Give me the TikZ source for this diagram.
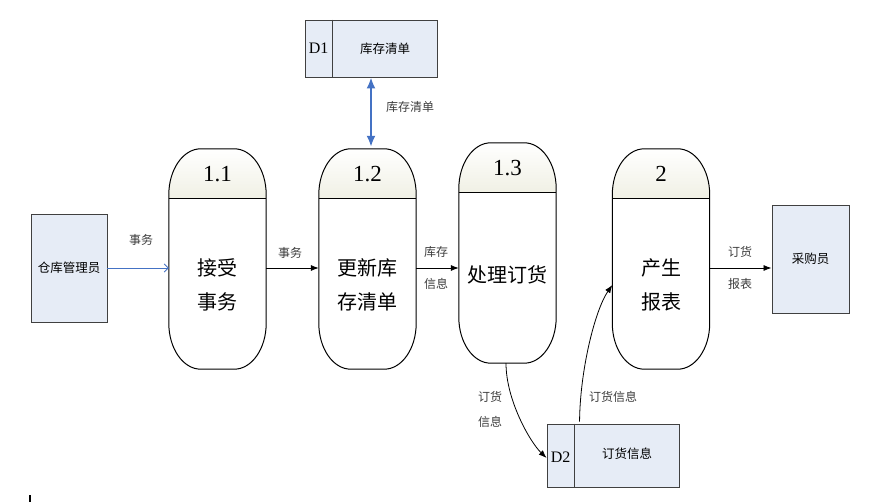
\documentclass[tikz,border=0pt]{standalone}
\usepackage{fontspec}
\setmainfont{Liberation Serif}
\newfontfamily\cjk{Noto Sans CJK SC}
\usetikzlibrary{arrows.meta,calc}
\definecolor{storefill}{RGB}{230,236,246}
\definecolor{edgegray}{RGB}{64,64,64}
\definecolor{headfill}{RGB}{240,240,228}
\definecolor{flowblue}{RGB}{68,114,196}
\definecolor{labelgray}{RGB}{60,60,60}
\tikzset{
 procbox/.style={draw=none, minimum width=97pt, minimum height=220pt, inner sep=0pt},
 procline/.style={draw=black, line width=1pt},
 numtext/.style={font=\fontsize{23}{24}\selectfont, inner sep=0pt},
 proctext/.style={font=\cjk\fontsize{20}{34}\selectfont, align=center, inner sep=0pt},
 storebox/.style={draw=edgegray, fill=storefill, line width=0.9pt, inner sep=0pt},
 storetext/.style={font=\cjk\fontsize{12.5}{15}\selectfont, inner sep=0pt},
 storeid/.style={font=\fontsize{16}{18}\selectfont, inner sep=0pt},
 entity/.style={draw=edgegray, fill=storefill, line width=0.9pt, inner sep=0pt, font=\cjk\fontsize{12.5}{15}\selectfont},
 elabel/.style={font=\cjk\fontsize{12}{14}\selectfont, text=labelgray, inner sep=0pt},
 flow/.style={draw=black, line width=0.8pt, -{Latex[length=8pt,width=6pt]}},
}
\newcommand\procshape[1]{%
 \shade[top color=white, bottom color=headfill] ([yshift=-50pt]#1.north west) -- ([yshift=-46pt]#1.north west) arc[start angle=180,end angle=90,x radius=32pt,y radius=46pt] -- ([xshift=-32pt]#1.north east) arc[start angle=90,end angle=0,x radius=32pt,y radius=46pt] -- ([yshift=-50pt]#1.north east) -- cycle;
 \draw[procline] ([yshift=-46pt]#1.north west) arc[start angle=180,end angle=90,x radius=32pt,y radius=46pt] -- ([xshift=-32pt]#1.north east) arc[start angle=90,end angle=0,x radius=32pt,y radius=46pt] -- ([yshift=46pt]#1.south east) arc[start angle=0,end angle=-90,x radius=32pt,y radius=46pt] -- ([xshift=32pt]#1.south west) arc[start angle=-90,end angle=-180,x radius=32pt,y radius=46pt] -- cycle;
 \draw[procline] ([yshift=-50pt]#1.north west) -- ([yshift=-50pt]#1.north east);
}
\begin{document}
\begin{tikzpicture}[x=1pt,y=-1pt]
\path[use as bounding box] (0,0) rectangle (869,502);
% processes
\node[procbox] (p11) at (217.5,259) {};
\node[procbox] (p12) at (367.5,259) {};
\node[procbox] (p13) at (507.5,253) {};
\node[procbox] (p2) at (661,259) {};
\procshape{p11}
\procshape{p12}
\procshape{p13}
\procshape{p2}
\node[numtext] (n11) at ($(p11.north)+(0,25)$) {1.1};
\node[numtext] (n12) at ($(p12.north)+(0,25)$) {1.2};
\node[numtext] (n13) at ($(p13.north)+(0,25)$) {1.3};
\node[numtext] (n2) at ($(p2.north)+(0,25)$) {2};
\node[proctext] (t11) at ($(p11.center)+(0,26)$) {接受\\事务};
\node[proctext] (t12) at ($(p12.center)+(0,26)$) {更新库\\存清单};
\node[proctext] (t13) at ($(p13.center)+(0,22)$) {处理订货};
\node[proctext] (t2) at ($(p2.center)+(0,26)$) {产生\\报表};
% entities
\node[entity, minimum width=76pt, minimum height=108pt] (wm) at (69,268) {仓库管理员};
\node[entity, minimum width=77pt, minimum height=108pt] (cg) at (810.5,259) {采购员};
% stores
\node[storebox, minimum width=132pt, minimum height=57pt] (d1) at (371,48.5) {};
\draw[edgegray, line width=0.9pt] ([xshift=28pt]d1.north west) -- ([xshift=28pt]d1.south west);
\node[storeid] (d1id) at ($(d1.west)+(14,0)$) {D1};
\node[storetext] (d1t) at ($(d1.center)+(14,0)$) {库存清单};
\node[storebox, minimum width=132pt, minimum height=63pt] (d2) at (613,455.5) {};
\draw[edgegray, line width=0.9pt] ([xshift=28pt]d2.north west) -- ([xshift=28pt]d2.south west);
\node[storeid] (d2id) at ($(d2.west)+(14,2)$) {D2};
\node[storetext] (d2t) at ($(d2.center)+(14,-2)$) {订货信息};
% flows
\draw[flowblue, line width=0.8pt, -{Straight Barb[length=4pt,width=8pt]}] (wm.east) -- (wm.east -| p11.west);
\draw[flow] (p11.east |- wm.east) -- (p12.west |- wm.east);
\draw[flow] (p12.east |- wm.east) -- (p13.west |- wm.east);
\draw[flow] (p2.east |- wm.east) -- (cg.west |- wm.east);
\draw[flowblue, line width=2pt, {Latex[length=11pt,width=9pt]}-{Latex[length=11pt,width=9pt]}, shorten >=2pt] (d1.south) -- (d1.south |- p12.north);
\coordinate (c1s) at (p13.south);
\draw[flow] ([xshift=-1.5pt]c1s) .. controls (506,400) and (530,442) .. ([yshift=-2.5pt]d2.west);
\draw[flow] ([xshift=33pt,yshift=2pt]d2.north west) .. controls (580,370) and (595,310) .. ([yshift=-26pt]p2.west);
% labels
\node[elabel] (l1) at (141,240) {事务};
\node[elabel] (l2) at (290,253) {事务};
\node[elabel] (l3a) at (436,252) {库存};
\node[elabel] (l3b) at (436,284) {信息};
\node[elabel] (l4a) at (740,252) {订货};
\node[elabel] (l4b) at (740,284) {报表};
\node[elabel] (l5) at (410,107) {库存清单};
\node[elabel] (l6a) at (490,397) {订货};
\node[elabel] (l6b) at (490,422) {信息};
\node[elabel] (l7) at (613,397) {订货信息};
% small mark bottom-left
\draw[black, line width=1.2pt] (30,495) -- (30,502);
\end{tikzpicture}
\end{document}
